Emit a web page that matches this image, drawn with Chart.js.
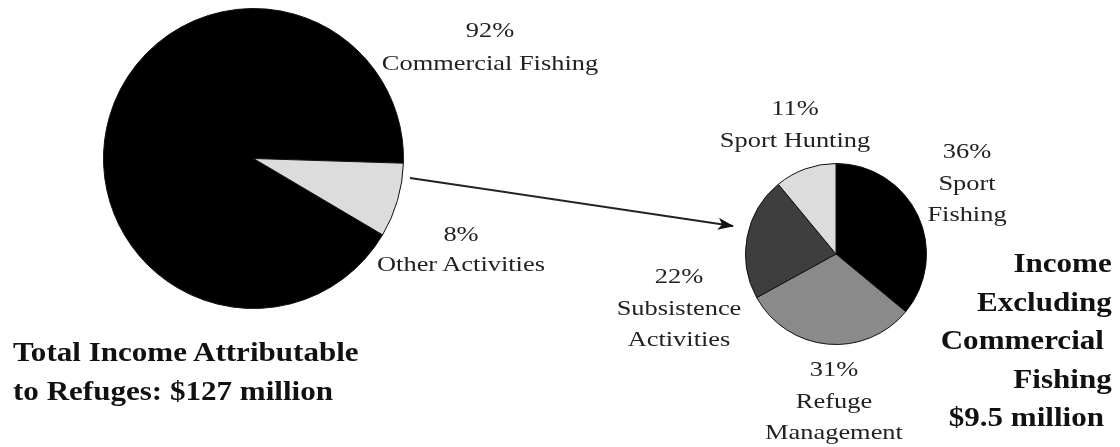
<!DOCTYPE html>
<html>
<head>
<meta charset="utf-8">
<script src="https://cdn.jsdelivr.net/npm/chart.js@4.4.0/dist/chart.umd.min.js"></script>
<style>
    html, body { margin: 0; padding: 0; background: #fff; }
    #page { position: relative; width: 1120px; height: 447px; overflow: hidden; font-family: "Liberation Serif", "Times New Roman", serif; color: #111; }
    .box { position: absolute; }
    .lbl { position: absolute; font-size: 22px; line-height: 31.5px; text-align: center; white-space: nowrap; transform: translateX(-50%) scaleX(1.2); color: #222; }
    .ttl { position: absolute; font-size: 27px; line-height: 38.5px; font-weight: bold; white-space: pre; color: #111; }
    svg { position: absolute; left: 0; top: 0; }
</style>
</head>
<body>
<div id="page">
    <div class="box" style="left:103px; top:8px; width:301px; height:301px;"><canvas id="total-chart"></canvas></div>
    <div class="box" style="left:745px; top:163px; width:182px; height:182px;"><canvas id="other-chart"></canvas></div>
    <svg width="1120" height="447">
        <defs>
            <marker id="head" markerWidth="16" markerHeight="12" refX="15" refY="6" orient="auto" markerUnits="userSpaceOnUse">
                <path d="M0,0 L16,6 L0,12 L4,6 z" fill="#111"/>
            </marker>
        </defs>
        <line x1="410" y1="178" x2="733" y2="226" stroke="#222" stroke-width="2" marker-end="url(#head)"/>
    </svg>
    <div class="ttl" style="left:13px; top:333px; transform-origin:left; transform:scaleX(1.15);">Total Income Attributable
to Refuges: $127 million</div>
    <div class="ttl" style="right:8px; top:244px; text-align:right; transform-origin:right; transform:scaleX(1.15);">Income
Excluding
Commercial 
Fishing
$9.5 million </div>
</div>
<script>
// Total income chart
var totalLabels = [['Commercial Fishing'], ['Other Activities']];
var totalValues = [92, 8];
var totalColors = ['#000000', '#dcdcdc'];

// Income excluding commercial fishing
var otherLabels = [['Sport', 'Fishing'], ['Refuge', 'Management'], ['Subsistence', 'Activities'], ['Sport Hunting']];
var otherValues = [36, 31, 22, 11];
var otherColors = ['#000000', '#8a8a8a', '#3e3e3e', '#dcdcdc'];

// label placement (center x, top y, line height)
var totalLabelPos = [[490, 13, 33], [461, 219, 30]];
var otherLabelPos = [[967, 135, 31.5], [834, 353, 31.5], [679, 260, 31.5], [795, 92, 31.5]];

var page = document.getElementById('page');

function addLabels(labels, values, pos) {
    for (var i = 0; i < labels.length; i++) {
        var div = document.createElement('div');
        div.className = 'lbl';
        div.style.left = pos[i][0] + 'px';
        div.style.top = pos[i][1] + 'px';
        div.style.lineHeight = pos[i][2] + 'px';
        var lines = [values[i] + '%'].concat(labels[i]);
        div.innerHTML = lines.join('<br>');
        page.appendChild(div);
    }
}

function pieOptions(rotation) {
    return {
        responsive: true,
        maintainAspectRatio: false,
        animation: false,
        rotation: rotation,
        layout: { padding: 0 },
        plugins: {
            legend: { display: false },
            tooltip: { enabled: false }
        }
    };
}

var totalChart = new Chart(document.getElementById('total-chart'), {
    type: 'pie',
    data: {
        labels: totalLabels,
        datasets: [{
            data: totalValues,
            backgroundColor: totalColors,
            borderColor: '#111',
            borderWidth: 1
        }]
    },
    options: pieOptions(120.6)
});

var otherChart = new Chart(document.getElementById('other-chart'), {
    type: 'pie',
    data: {
        labels: otherLabels,
        datasets: [{
            data: otherValues,
            backgroundColor: otherColors,
            borderColor: '#111',
            borderWidth: 1
        }]
    },
    options: pieOptions(0)
});

addLabels(totalLabels, totalValues, totalLabelPos);
addLabels(otherLabels, otherValues, otherLabelPos);
</script>
</body>
</html>
